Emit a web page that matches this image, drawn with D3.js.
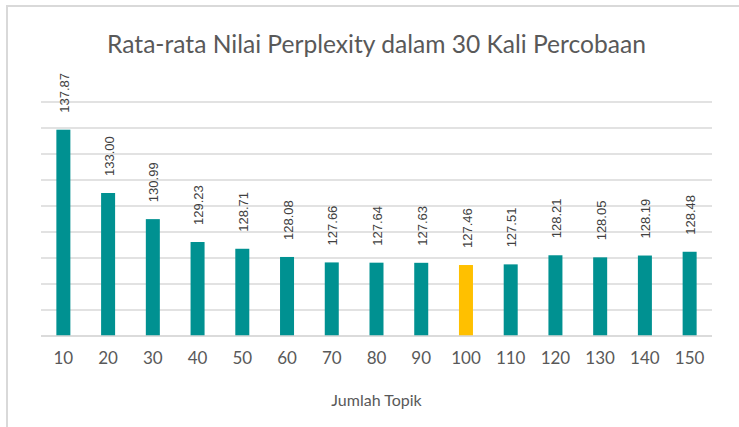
<!doctype html>
<html>
<head>
<meta charset="utf-8"/>
<title>Rata-rata Nilai Perplexity</title>
<script src="https://d3js.org/d3.v7.min.js"></script>
<style>
body { margin: 0; background: #fff; }
</style>
</head>
<body>
<svg id="chart"></svg>
<script>
// data
const topics = ['10', '20', '30', '40', '50', '60', '70', '80', '90', '100', '110', '120', '130', '140', '150'];
const perplexity = [137.87, 133.00, 130.99, 129.23, 128.71, 128.08, 127.66, 127.64, 127.63, 127.46, 127.51, 128.21, 128.05, 128.19, 128.48];
const best_topic = '100';   // highlighted bar
const y_min = 122, y_max = 140, y_step = 2;

const width = 739, height = 427;
const plot_left = 41, plot_right = 712, plot_top = 102, plot_bottom = 336;
const teal = '#009191', yellow = '#FFC000', text_gray = '#595959', grid_gray = '#D9D9D9';

const svg = d3.select('#chart')
    .attr('width', width)
    .attr('height', height)
    .style('font-family', 'Lato, "Open Sans", sans-serif');

// chart area frame (runs off the right and bottom of the picture)
svg.append('rect')
    .attr('x', 7).attr('y', 6)
    .attr('width', width + 10).attr('height', height + 10)
    .attr('fill', 'none')
    .attr('stroke', grid_gray)
    .attr('stroke-width', 2);

const x = d3.scaleBand()
    .domain(topics)
    .range([plot_left, plot_right])
    .paddingInner(0.687)
    .paddingOuter(0.3435);

const y = d3.scaleLinear()
    .domain([y_min, y_max])
    .range([plot_bottom, plot_top]);

// gridlines
const grid_values = d3.range(y_min, y_max + 0.001, y_step);
svg.append('g')
    .selectAll('line')
    .data(grid_values)
    .join('line')
    .attr('x1', plot_left)
    .attr('x2', plot_right)
    .attr('y1', d => y(d))
    .attr('y2', d => y(d))
    .attr('stroke', grid_gray)
    .attr('stroke-width', 1.5);

// bars
svg.append('g')
    .selectAll('rect')
    .data(topics)
    .join('rect')
    .attr('x', d => x(d))
    .attr('width', x.bandwidth())
    .attr('y', (d, i) => y(perplexity[i]))
    .attr('height', (d, i) => y(y_min) - y(perplexity[i]))
    .attr('fill', d => d == best_topic ? yellow : teal);

// data labels, rotated
svg.append('g')
    .selectAll('text')
    .data(topics)
    .join('text')
    .attr('transform', (d, i) => {
        let cx = x(d) + x.bandwidth() / 2 + 1;
        let cy = y(perplexity[i]) - 17;
        return 'translate(' + cx + ',' + cy + ') rotate(-90)';
    })
    .attr('dy', '0.35em')
    .attr('fill', '#404040')
    .style('font-family', '"Liberation Sans", Arial, sans-serif')
    .style('font-size', '13px')
    .text((d, i) => perplexity[i].toFixed(2));

// x axis
const x_axis = svg.append('g')
    .attr('transform', 'translate(0,' + plot_bottom + ')')
    .call(d3.axisBottom(x).tickSize(0).tickPadding(16));
x_axis.select('.domain')
    .attr('stroke', grid_gray)
    .attr('stroke-width', 1.5)
    .attr('d', 'M' + plot_left + ',0H' + plot_right);
x_axis.selectAll('text')
    .attr('fill', text_gray)
    .style('font-family', 'Lato, "Open Sans", sans-serif')
    .style('font-size', '17px');

// axis title
svg.append('text')
    .attr('x', (plot_left + plot_right) / 2)
    .attr('y', 406)
    .attr('text-anchor', 'middle')
    .attr('fill', text_gray)
    .style('font-size', '16px')
    .text('Jumlah Topik');

// chart title
svg.append('text')
    .attr('x', (plot_left + plot_right) / 2)
    .attr('y', 53)
    .attr('text-anchor', 'middle')
    .attr('fill', text_gray)
    .style('font-size', '24.6px')
    .text('Rata-rata Nilai Perplexity dalam 30 Kali Percobaan');
</script>
</body>
</html>
